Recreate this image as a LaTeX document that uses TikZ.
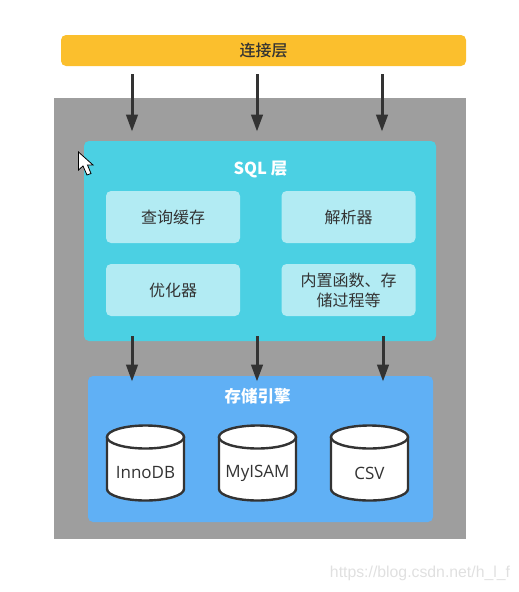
\documentclass[tikz,border=0pt]{standalone}
\usepackage{fontspec}
\setmainfont{Open Sans}
\newfontfamily\cjk{Noto Sans CJK SC}
\newfontfamily\cjkmid{Noto Sans CJK SC Medium}
\newfontfamily\markfont{Liberation Sans}
\usetikzlibrary{arrows.meta}
\definecolor{barcolor}{HTML}{FBBF2D}
\definecolor{servercolor}{HTML}{9E9E9E}
\definecolor{sqlcolor}{HTML}{4BD0E3}
\definecolor{cellcolor}{HTML}{B2EBF3}
\definecolor{enginecolor}{HTML}{60B0F5}
\definecolor{inkcolor}{HTML}{333333}
\tikzset{
  layerbox/.style={rounded corners=5pt,inner sep=0pt},
  cellbox/.style={layerbox,fill=cellcolor,minimum width=134pt,minimum height=52pt,
    text=inkcolor,align=center,text width=118pt,font=\cjk\fontsize{16}{20}\selectfont},
  titletext/.style={text=white,font=\cjk\bfseries\fontsize{16.5}{18}\selectfont},
  flowarrow/.style={draw=inkcolor,line width=3pt,-{Triangle[length=17pt,width=11.5pt]}},
  dbline/.style={draw=inkcolor,line width=2.4pt,fill=white},
  dbtext/.style={text=inkcolor,inner sep=0pt,font=\fontsize{17}{18}\selectfont}
}
\begin{document}
\begin{tikzpicture}[x=1pt,y=-1pt]
    \useasboundingbox (0,0) rectangle (519,592);
    % Connection layer and server block
    \node[layerbox,fill=barcolor,minimum width=405pt,minimum height=31pt,text=inkcolor,
      font=\cjkmid\fontsize{16}{18}\selectfont] (conn) at (263.5,50.5) {连接层};
    \node[fill=servercolor,minimum width=412pt,minimum height=441pt,inner sep=0pt] (server) at (260,318.5) {};
    % SQL layer
    \node[layerbox,fill=sqlcolor,minimum width=352pt,minimum height=200pt] (sql) at (260,241) {};
    \node[titletext] (sqltitle) at (260.5,169.5) {SQL 层};
    \node[cellbox] (cache) at (173,217) {查询缓存};
    \node[cellbox] (parser) at (348.5,217) {解析器};
    \node[cellbox] (optimizer) at (173,290) {优化器};
    \node[cellbox] (builtin) at (348.5,290) {内置函数、存\\储过程等};
    % Storage engines
    \node[layerbox,fill=enginecolor,minimum width=345pt,minimum height=146pt] (engine) at (260.5,449) {};
    \node[titletext] (enginetitle) at (257.5,396.5) {存储引擎};
    % One drum per engine
    \foreach \name/\xc/\label in {innodb/145.5/InnoDB,myisam/257.5/MyISAM,csv/369.5/CSV} {
        \draw[dbline] (\xc-38.5,437) -- (\xc-38.5,489) arc[start angle=180,end angle=360,x radius=38.5,y radius=-11.5]
          -- (\xc+38.5,437);
        \draw[dbline] (\xc,437) ellipse[x radius=38.5,y radius=11.5];
        \node[dbtext] (\name) at (\xc,473) {\label};
    }
    % Arrows between the layers
    \foreach \name/\xa/\xb in {a/132/132,b/257/257,c/382/383} {
        \coordinate (up\name) at (\xa,74);
        \coordinate (mid\name) at (\xa,131.5);
        \coordinate (low\name) at (\xb,336);
        \coordinate (end\name) at (\xb,381.5);
        \draw[flowarrow] (up\name) -- (mid\name);
        \draw[flowarrow] (low\name) -- (end\name);
    }
    % Mouse pointer
    \draw[black,fill=white,line width=0.8pt,line join=miter] (78.5,152) -- (78.5,170) -- (83,166)
      -- (87,175) -- (91,173.5) -- (87.5,165) -- (93,165) -- cycle;
    % Watermark
    \node[text=black!12,font=\markfont\fontsize{15.8}{18}\selectfont,inner sep=0pt] (mark) at (420,573)
      {https://blog.csdn.net/h\_l\_f};
\end{tikzpicture}
\end{document}
